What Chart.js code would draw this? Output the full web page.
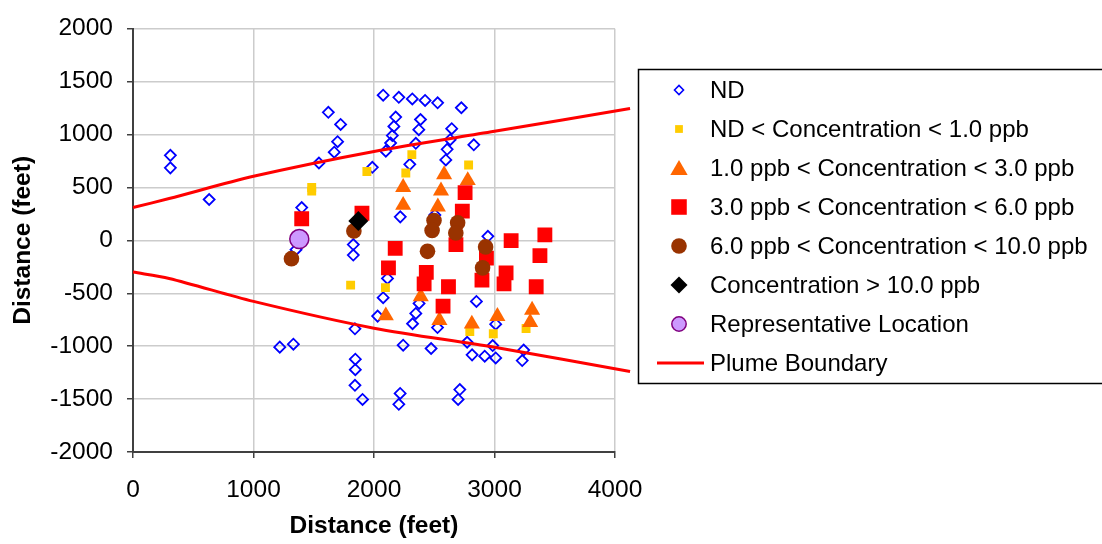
<!DOCTYPE html>
<html lang="en">
<head>
  <meta charset="UTF-8">
  <title>Plume sampling locations</title>
  <script src="https://cdn.jsdelivr.net/npm/chart.js"></script>
  <style>
    body {
      margin: 0;
      background-color: #ffffff;
    }
    #wrap {
      width: 1102px;
      height: 544px;
    }
  </style>
</head>
<body>
<div id="wrap">
  <canvas id="plumeChart" width="1102" height="544"></canvas>
</div>

<script>
    // sample locations, [distance x, distance y] in feet
    const ndPoints = [
        [310, 803], [310, 685], [632, 386], [1621, 1210], [1723, 1095], [1698, 932],
        [1670, 833], [1543, 731], [1986, 690], [1400, 310], [1353, -88], [1828, -40],
        [1828, -139], [2076, -542], [2030, -716], [1842, -836], [1218, -1009], [1331, -981],
        [1845, -1123], [1845, -1222], [1842, -1370], [1905, -1503], [2076, 1372], [2206, 1352],
        [2318, 1336], [2424, 1322], [2528, 1300], [2725, 1253], [2180, 1165], [2165, 1077],
        [2152, 990], [2138, 920], [2098, 843], [2386, 1142], [2372, 1046], [2347, 917],
        [2297, 718], [2645, 1055], [2632, 951], [2607, 860], [2596, 760], [2828, 903],
        [2218, 222], [2505, 240], [2945, 38], [2112, -360], [2374, -596], [2347, -691],
        [2320, -788], [2527, -824], [2242, -991], [2474, -1022], [2850, -577], [2773, -963],
        [2814, -1082], [2919, -1095], [3010, -1111], [2985, -994], [3010, -792], [3242, -1037],
        [3230, -1136], [2217, -1447], [2206, -1549], [2712, -1410], [2698, -1503]
    ];
    const below1Points = [
        [1483, 500], [1483, 465], [1941, 651], [1806, -423], [2314, 810], [2264, 636],
        [2785, 712], [2095, -447], [2795, -861], [2990, -883], [3262, -833]
    ];
    const from1to3Points = [
        [2242, 502], [2242, 332], [2582, 622], [2556, 468], [2530, 316], [2778, 566],
        [2388, -532], [2098, -712], [2543, -755], [2812, -790], [3024, -718], [3312, -659],
        [3296, -775]
    ];
    const from3to6Points = [
        [1400, 204], [1900, 256], [2756, 451], [2733, 276], [2176, -76], [2680, -40],
        [3138, -3], [3418, 52], [3377, -144], [2933, -168], [2120, -260], [2434, -303],
        [2416, -412], [2618, -438], [2896, -376], [3096, -308], [3079, -412], [3346, -438],
        [2573, -621]
    ];
    const from6to10Points = [
        [1833, 88], [1315, -173], [2498, 188], [2482, 94], [2694, 166], [2679, 70],
        [2444, -104], [2926, -62], [2901, -260]
    ];
    const above10Points = [[1870, 184]];
    const representativePoints = [[1380, 12]];

    const plumeUpper = [[0, 310], [300, 395], [1000, 605], [2000, 840], [3000, 1030], [4125, 1245]];
    const plumeLower = [[0, -300], [300, -360], [1000, -577], [2000, -830], [3000, -1010], [4125, -1240]];

    const xTicks = [0, 1000, 2000, 3000, 4000];
    const yTicks = [-2000, -1500, -1000, -500, 0, 500, 1000, 1500, 2000];

    const seriesLabels = [
        'ND',
        'ND < Concentration < 1.0 ppb',
        '1.0 ppb < Concentration < 3.0 ppb',
        '3.0 ppb < Concentration < 6.0 ppb',
        '6.0 ppb < Concentration < 10.0 ppb',
        'Concentration > 10.0 ppb',
        'Representative Location',
        'Plume Boundary'
    ];

    const FONT = '"Liberation Sans", Arial, Helvetica, sans-serif';

    function toXY(list) {
        return list.map(function (p) { return {x: p[0], y: p[1]}; });
    }

    function markerSet(label, points, style, radius, fill, border, borderWidth, order) {
        return {
            label: label,
            data: toXY(points),
            showLine: false,
            pointStyle: style,
            pointRadius: radius,
            pointHoverRadius: radius,
            backgroundColor: fill,
            borderColor: border,
            borderWidth: borderWidth,
            order: order
        };
    }

    function plumeSet(points) {
        return {
            label: seriesLabels[7],
            data: toXY(points),
            showLine: true,
            pointRadius: 0,
            borderColor: '#ff0000',
            borderWidth: 3,
            tension: 0.3,
            clip: false,
            order: 0
        };
    }

    const datasets = [
        markerSet(seriesLabels[0], ndPoints, 'rectRot', 5.5, 'rgba(255,255,255,0)', '#0000ff', 1.8, 7),
        markerSet(seriesLabels[1], below1Points, 'rect', 6.3, '#ffcc00', '#ffcc00', 0, 6),
        markerSet(seriesLabels[2], from1to3Points, 'triangle', 9.3, '#ff6600', '#ff6600', 0, 5),
        markerSet(seriesLabels[3], from3to6Points, 'rect', 10.5, '#ff0000', '#ff0000', 0, 4),
        markerSet(seriesLabels[4], from6to10Points, 'circle', 7.8, '#993300', '#993300', 0, 3),
        markerSet(seriesLabels[5], above10Points, 'rectRot', 10, '#000000', '#000000', 0, 2),
        markerSet(seriesLabels[6], representativePoints, 'circle', 9.5, '#cc99ff', '#800080', 1.5, 1),
        plumeSet(plumeUpper),
        plumeSet(plumeLower)
    ];

    // legend box on the right, drawn by hand so it can sit outside the plot
    const legendItems = [
        {style: 'rectRot', r: 4.5, fill: '#ffffff', stroke: '#0000ff', bw: 1.6},
        {style: 'rect', r: 5.5, fill: '#ffcc00', stroke: '#ffcc00', bw: 0},
        {style: 'triangle', r: 10, fill: '#ff6600', stroke: '#ff6600', bw: 0},
        {style: 'rect', r: 11, fill: '#ff0000', stroke: '#ff0000', bw: 0},
        {style: 'circle', r: 7.8, fill: '#993300', stroke: '#993300', bw: 0},
        {style: 'rectRot', r: 8.5, fill: '#000000', stroke: '#000000', bw: 0},
        {style: 'circle', r: 7.2, fill: '#cc99ff', stroke: '#800080', bw: 1.5},
        {style: 'line'}
    ];

    const boxLegend = {
        id: 'boxLegend',
        afterDraw(chart) {
            const ctx = chart.ctx;
            ctx.save();
            ctx.strokeStyle = '#000000';
            ctx.lineWidth = 1.5;
            ctx.strokeRect(638.5, 69.5, 480, 314);

            const rowTop = 90;
            const rowGap = 39;
            ctx.font = '24px ' + FONT;
            ctx.textBaseline = 'middle';
            ctx.textAlign = 'left';
            legendItems.forEach(function (item, i) {
                const y = rowTop + i * rowGap;
                const x = 679;
                if (item.style === 'line') {
                    ctx.strokeStyle = '#ff0000';
                    ctx.lineWidth = 3;
                    ctx.beginPath();
                    ctx.moveTo(657, y);
                    ctx.lineTo(704, y);
                    ctx.stroke();
                } else {
                    ctx.fillStyle = item.fill;
                    ctx.strokeStyle = item.stroke;
                    ctx.lineWidth = item.bw;
                    const py = item.style === 'triangle' ? y + 2 : y;
                    Chart.helpers.drawPoint(ctx, {
                        pointStyle: item.style,
                        radius: item.r,
                        rotation: 0,
                        borderWidth: item.bw
                    }, x, py);
                }
                ctx.fillStyle = '#000000';
                ctx.fillText(seriesLabels[i], 710, y + 1);
            });
            ctx.restore();
        }
    };

    const tickFont = {family: FONT, size: 24.5};
    const titleFont = {family: FONT, size: 24.5, weight: 'bold'};

    function plainNumber(value) {
        return String(value);
    }

    const config = {
        type: 'scatter',
        data: {datasets: datasets},
        options: {
            responsive: false,
            animation: false,
            layout: {
                padding: {top: 20, right: 487, left: 0, bottom: 0}
            },
            plugins: {
                legend: {display: false},
                tooltip: {enabled: false}
            },
            scales: {
                x: {
                    type: 'linear',
                    min: 0,
                    max: 4000,
                    afterBuildTicks: function (scale) {
                        scale.ticks = xTicks.map(function (v) { return {value: v}; });
                    },
                    afterFit: function (scale) {
                        scale.height = 92;
                    },
                    ticks: {
                        color: '#000000',
                        font: tickFont,
                        padding: 18,
                        maxRotation: 0,
                        callback: plainNumber
                    },
                    grid: {
                        color: '#cccccc',
                        lineWidth: 1.5,
                        tickColor: '#404040',
                        tickLength: 6,
                        tickWidth: 1.5
                    },
                    border: {color: '#404040', width: 2},
                    title: {
                        display: true,
                        text: 'Distance (feet)',
                        color: '#000000',
                        font: titleFont,
                        padding: {top: 0, bottom: 3}
                    }
                },
                y: {
                    type: 'linear',
                    min: -2000,
                    max: 2000,
                    afterBuildTicks: function (scale) {
                        scale.ticks = yTicks.map(function (v) { return {value: v}; });
                    },
                    afterFit: function (scale) {
                        scale.width = 133;
                    },
                    ticks: {
                        color: '#000000',
                        font: tickFont,
                        padding: 14,
                        callback: plainNumber
                    },
                    grid: {
                        color: '#cccccc',
                        lineWidth: 1.5,
                        tickColor: '#404040',
                        tickLength: 6,
                        tickWidth: 1.5
                    },
                    border: {color: '#404040', width: 2},
                    title: {
                        display: true,
                        text: 'Distance (feet)',
                        color: '#000000',
                        font: titleFont,
                        padding: {top: 9, bottom: 0}
                    }
                }
            }
        },
        plugins: [boxLegend]
    };

    const plumeChart = new Chart(document.getElementById('plumeChart'), config);
</script>
</body>
</html>
